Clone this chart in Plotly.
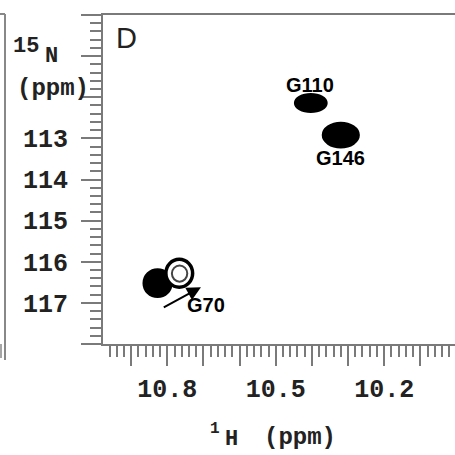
import plotly.graph_objects as go

# ---- data ----
peak_names = ["G110", "G146", "G70", "G70'"]
peak_h = [10.403, 10.320, 10.827, 10.767]       # 1H ppm
peak_n = [112.14, 112.92, 116.52, 116.28]       # 15N ppm
peak_wh = [0.044, 0.050, 0.039, 0.037]          # half width in 1H ppm
peak_wn = [0.22, 0.30, 0.34, 0.34]              # half width in 15N ppm
peak_filled = [True, True, True, False]

label_text = ["G110", "G146", "G70"]
label_h = [10.406, 10.321, 10.694]
label_n = [111.70, 113.48, 117.06]

arrow_from = (10.814, 117.13)
arrow_to = (10.707, 116.62)

x_tickvals = [10.9, 10.8, 10.7, 10.6, 10.5, 10.4, 10.3, 10.2, 10.1]
x_ticktext = ["", "10.8", "", "", "10.5", "", "", "10.2", ""]
y_tickvals = [110, 111, 112, 113, 114, 115, 116, 117, 118]
y_ticktext = ["", "", "", "113", "114", "115", "116", "117", ""]

W, H = 455, 455
ML, MR, MT, MB = 103, 0, 15, 111
PW, PH = W - ML - MR, H - MT - MB

def px(xp):  # screen pixel -> paper
    return (xp - ML) / PW

def py(yp):
    return (H - MB - yp) / PH

fig = go.Figure()
fig.add_trace(go.Scatter(x=[10.5], y=[114], mode="markers",
                         marker=dict(opacity=0), hoverinfo="skip", showlegend=False))

shapes = []
for h, n, wh, wn, filled in zip(peak_h, peak_n, peak_wh, peak_wn, peak_filled):
    if filled:
        shapes.append(dict(type="circle", xref="x", yref="y",
                           x0=h - wh, x1=h + wh, y0=n - wn, y1=n + wn,
                           fillcolor="black", line=dict(color="black", width=2)))
    else:
        shapes.append(dict(type="circle", xref="x", yref="y",
                           x0=h - wh, x1=h + wh, y0=n - wn, y1=n + wn,
                           fillcolor="white", line=dict(color="black", width=3.5)))
        shapes.append(dict(type="circle", xref="x", yref="y",
                           x0=h - wh * 0.6, x1=h + wh * 0.55, y0=n - wn * 0.55, y1=n + wn * 0.6,
                           fillcolor="rgba(0,0,0,0)", line=dict(color="#444", width=2)))

# neighbour panel frame (left edge)
shapes.append(dict(type="line", xref="paper", yref="paper",
                   x0=px(5), x1=px(5), y0=py(14), y1=py(360),
                   line=dict(color="#888", width=2)))
shapes.append(dict(type="line", xref="paper", yref="paper",
                   x0=px(0), x1=px(5), y0=py(14), y1=py(14),
                   line=dict(color="#888", width=2)))
shapes.append(dict(type="line", xref="paper", yref="paper",
                   x0=px(1), x1=px(1), y0=py(344), y1=py(358),
                   line=dict(color="#888", width=1.5)))

annotations = []
for t, h, n in zip(label_text, label_h, label_n):
    annotations.append(dict(x=h, y=n, xref="x", yref="y", text="<b>" + t + "</b>",
                            showarrow=False,
                            font=dict(family="Liberation Sans", size=20, color="black"),
                            xanchor="center", yanchor="middle"))

annotations.append(dict(x=arrow_to[0], y=arrow_to[1], ax=arrow_from[0], ay=arrow_from[1],
                        xref="x", yref="y", axref="x", ayref="y", text="",
                        showarrow=True, arrowhead=2, arrowsize=1.4, arrowwidth=2,
                        arrowcolor="black"))

annotations.append(dict(x=px(114), y=py(38), xref="paper", yref="paper", text="D",
                        showarrow=False, xanchor="left", yanchor="middle",
                        font=dict(family="Liberation Sans", size=29, color="#222")))

mono = "Liberation Mono"
annotations.append(dict(x=px(26), y=py(46), xref="paper", yref="paper", text="<b>15</b>",
                        showarrow=False, xanchor="center", yanchor="middle",
                        font=dict(family=mono, size=22, color="#222")))
annotations.append(dict(x=px(51), y=py(56), xref="paper", yref="paper", text="<b>N</b>",
                        showarrow=False, xanchor="center", yanchor="middle",
                        font=dict(family=mono, size=22, color="#222")))
annotations.append(dict(x=px(53), y=py(88), xref="paper", yref="paper", text="<b>(ppm)</b>",
                        showarrow=False, xanchor="center", yanchor="middle",
                        font=dict(family=mono, size=24, color="#222")))
annotations.append(dict(x=px(215), y=py(429), xref="paper", yref="paper", text="<b>1</b>",
                        showarrow=False, xanchor="center", yanchor="middle",
                        font=dict(family=mono, size=16, color="#222")))
annotations.append(dict(x=px(231), y=py(439), xref="paper", yref="paper", text="<b>H</b>",
                        showarrow=False, xanchor="center", yanchor="middle",
                        font=dict(family=mono, size=22, color="#222")))
annotations.append(dict(x=px(300), y=py(438), xref="paper", yref="paper", text="<b>(ppm)</b>",
                        showarrow=False, xanchor="center", yanchor="middle",
                        font=dict(family=mono, size=24, color="#222")))

axis_col = "#7a7a7a"
tickfont = dict(family=mono, size=25, color="#222", weight="bold")

fig.update_layout(
    width=W, height=H,
    margin=dict(l=ML, r=MR, t=MT, b=MB),
    paper_bgcolor="white", plot_bgcolor="white",
    showlegend=False,
    shapes=shapes, annotations=annotations,
    xaxis=dict(range=[10.978, 10.004], tickmode="array", tickvals=x_tickvals,
               ticktext=x_ticktext, ticks="outside", ticklen=20, tickwidth=2,
               tickcolor=axis_col, showline=True, linecolor=axis_col, linewidth=2,
               mirror=True, showgrid=False, zeroline=False, tickfont=tickfont,
               ticklabelstandoff=1,
               minor=dict(dtick=0.02, tick0=10.0, ticks="outside", ticklen=11,
                          tickwidth=2, tickcolor=axis_col, showgrid=False)),
    yaxis=dict(range=[118, 110], tickmode="array", tickvals=y_tickvals,
               ticktext=y_ticktext, ticks="outside", ticklen=20, tickwidth=2,
               tickcolor=axis_col, showline=True, linecolor=axis_col, linewidth=2,
               mirror=False, showgrid=False, zeroline=False, tickfont=tickfont,
               ticklabelstandoff=8,
               minor=dict(dtick=0.2, tick0=110, ticks="outside", ticklen=11,
                          tickwidth=2, tickcolor=axis_col, showgrid=False)),
)

fig.write_html("out.html", config={"displayModeBar": False},
               post_script="document.body.style.margin='0';document.body.style.overflow='hidden';")
